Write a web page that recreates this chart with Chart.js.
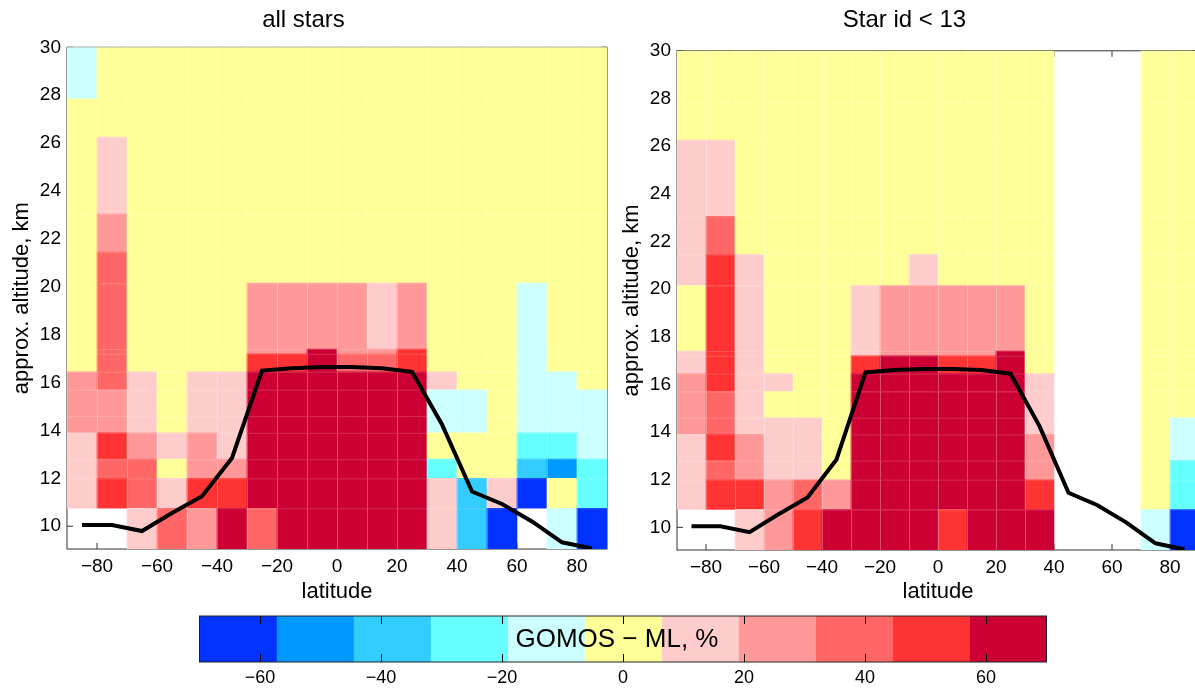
<!DOCTYPE html>
<html>
<head>
<meta charset="utf-8">
<title>GOMOS − ML</title>
<script src="https://cdn.jsdelivr.net/npm/chart.js@4.4.1/dist/chart.umd.min.js"></script>
<style>
  html, body { margin: 0; padding: 0; background: #fff; overflow: hidden; }
  body { width: 1195px; height: 690px; position: relative; }
  canvas { position: absolute; display: block; }
  #leftChart { left: 0; top: 0; }
  #rightChart { left: 610px; top: 0; }
  #barChart { left: 150px; top: 605px; }
</style>
</head>
<body>
<canvas id="leftChart" width="620" height="610"></canvas>
<canvas id="rightChart" width="602" height="610"></canvas>
<canvas id="barChart" width="950" height="85"></canvas>
<script>
// Latitude bin centres (10 deg wide bins)
const lats = [-85, -75, -65, -55, -45, -35, -25, -15, -5, 5, 15, 25, 35, 45, 55, 65, 75, 85];
// Altitude bin edges, km (bottom -> top)
const altEdges = [9.05, 10.75, 12.0, 12.8, 13.9, 14.6, 15.7, 16.45, 17.2, 17.4, 20.15, 21.45, 23.05, 26.25, 27.85, 30.0];

const latTicks = [-80, -60, -40, -20, 0, 20, 40, 60, 80];
const altTicks = [10, 12, 14, 16, 18, 20, 22, 24, 26, 28, 30];

// Tropopause altitude (km) at each latitude bin
const tropAlt = [10.05, 10.05, 9.8, 10.55, 11.25, 12.85, 16.5, 16.6, 16.65, 16.65, 16.6, 16.45, 14.25, 11.45, 10.93, 10.2, 9.33, 9.07];

const _ = null; // no data

// GOMOS - ML difference, %, all stars (rows = altitude bins, bottom -> top)
const allStarsDiff = [
    [ _,  _, 13, 38, 25, 64, 38, 64, 64, 64, 64, 64,  13, -38, -64,   _, -12, -64],
    [13, 51, 38, 13, 51, 51, 64, 64, 64, 64, 64, 64,  13, -38,  13, -64,   0, -25],
    [13, 38, 38,  0, 25, 25, 64, 64, 64, 64, 64, 64, -25,   0,   0, -38, -51, -25],
    [13, 51, 25, 13, 25, 13, 64, 64, 64, 64, 64, 64,   0,   0,   0, -25, -25, -12],
    [25, 25, 13,  0, 13, 13, 64, 64, 64, 64, 64, 64, -12, -12,   0, -12, -12, -12],
    [25, 25, 13,  0, 13, 13, 64, 64, 64, 64, 64, 64, -12, -12,   0, -12, -12, -12],
    [25, 38, 13,  0, 13, 13, 64, 64, 64, 64, 64, 64,  13,   0,   0, -12, -12,   0],
    [ 0, 38,  0,  0,  0,  0, 51, 51, 64, 38, 38, 51,   0,   0,   0, -12,   0,   0],
    [ 0, 38,  0,  0,  0,  0, 25, 25, 64, 25, 25, 51,   0,   0,   0, -12,   0,   0],
    [ 0, 38,  0,  0,  0,  0, 25, 25, 25, 25, 13, 25,   0,   0,   0, -12,   0,   0],
    [ 0, 38,  0,  0,  0,  0,  0,  0,  0,  0,  0,  0,   0,   0,   0,   0,   0,   0],
    [ 0, 25,  0,  0,  0,  0,  0,  0,  0,  0,  0,  0,   0,   0,   0,   0,   0,   0],
    [ 0, 13,  0,  0,  0,  0,  0,  0,  0,  0,  0,  0,   0,   0,   0,   0,   0,   0],
    [ 0,  0,  0,  0,  0,  0,  0,  0,  0,  0,  0,  0,   0,   0,   0,   0,   0,   0],
    [-12, 0,  0,  0,  0,  0,  0,  0,  0,  0,  0,  0,   0,   0,   0,   0,   0,   0]
];

// GOMOS - ML difference, %, bright stars only (star id < 13)
const brightStarsDiff = [
    [ _,  _, 13, 25, 51, 64, 64, 64, 64, 51, 64, 64, 64, _, _, _, -12, -64],
    [13, 51, 51, 25, 38, 25, 64, 64, 64, 64, 64, 64, 51, _, _, _,   0, -25],
    [13, 38, 25, 13, 13,  0, 64, 64, 64, 64, 64, 64, 25, _, _, _,   0, -25],
    [13, 51, 25, 13, 13,  0, 64, 64, 64, 64, 64, 64, 25, _, _, _,   0, -12],
    [25, 38, 13, 13, 13,  0, 64, 64, 64, 64, 64, 64, 13, _, _, _,   0, -12],
    [25, 38, 13,  0,  0,  0, 64, 64, 64, 64, 64, 64, 13, _, _, _,   0,   0],
    [25, 51, 13, 13,  0,  0, 64, 64, 64, 64, 64, 64, 13, _, _, _,   0,   0],
    [13, 51, 13,  0,  0,  0, 51, 64, 64, 51, 51, 64,  0, _, _, _,   0,   0],
    [13, 51, 13,  0,  0,  0, 13, 25, 25, 25, 25, 64,  0, _, _, _,   0,   0],
    [ 0, 51, 13,  0,  0,  0, 13, 25, 25, 25, 25, 25,  0, _, _, _,   0,   0],
    [13, 51, 13,  0,  0,  0,  0,  0, 13,  0,  0,  0,  0, _, _, _,   0,   0],
    [13, 38,  0,  0,  0,  0,  0,  0,  0,  0,  0,  0,  0, _, _, _,   0,   0],
    [13, 13,  0,  0,  0,  0,  0,  0,  0,  0,  0,  0,  0, _, _, _,   0,   0],
    [ 0,  0,  0,  0,  0,  0,  0,  0,  0,  0,  0,  0,  0, _, _, _,   0,   0],
    [ 0,  0,  0,  0,  0,  0,  0,  0,  0,  0,  0,  0,  0, _, _, _,   0,   0]
];

// Colour scale: 11 classes between -70 and 70 %
const cbEdges = [-70, -57.27, -44.55, -31.82, -19.09, -6.36, 6.36, 19.09, 31.82, 44.55, 57.27, 70];
const cbColors = ['#0033ff', '#0099ff', '#33ccff', '#66ffff', '#ccffff', '#ffff99',
                  '#ffcccc', '#ff9999', '#ff6666', '#ff3333', '#cc0033'];
const cbTicks = [-60, -40, -20, 0, 20, 40, 60];

Chart.defaults.font.family = '"Liberation Sans", Arial, Helvetica, sans-serif';
Chart.defaults.color = '#000';

function binColor(v) {
    for (let i = 0; i < cbColors.length; i++) {
        if (v < cbEdges[i + 1]) return cbColors[i];
    }
    return cbColors[cbColors.length - 1];
}

function minusLabel(v) {
    return v < 0 ? '\u2212' + Math.abs(v) : String(v);
}

// axes box + inward tick marks, drawn under the cells (cells hide it)
const frameUnder = {
    id: 'frameUnder',
    beforeDatasetsDraw(chart) {
        const { ctx, chartArea: a, scales: { x, y } } = chart;
        ctx.save();
        ctx.strokeStyle = '#333';
        ctx.lineWidth = 1;
        ctx.strokeRect(a.left, a.top, a.width, a.height);
        ctx.beginPath();
        x.ticks.forEach(t => {
            const px = x.getPixelForValue(t.value);
            ctx.moveTo(px, a.bottom); ctx.lineTo(px, a.bottom - 6);
            ctx.moveTo(px, a.top); ctx.lineTo(px, a.top + 6);
        });
        y.ticks.forEach(t => {
            const py = y.getPixelForValue(t.value);
            ctx.moveTo(a.left, py); ctx.lineTo(a.left + 6, py);
            ctx.moveTo(a.right, py); ctx.lineTo(a.right - 6, py);
        });
        ctx.stroke();
        ctx.restore();
    }
};

// faint seams between neighbouring cells
const cellSeams = {
    id: 'cellSeams',
    afterDatasetDraw(chart, args) {
        if (args.meta.type !== 'bar') return;
        const ctx = chart.ctx;
        const a = chart.chartArea;
        ctx.save();
        ctx.beginPath();
        ctx.rect(a.left, a.top, a.width, a.height);
        ctx.clip();
        ctx.strokeStyle = 'rgba(255,255,255,0.16)';
        ctx.lineWidth = 1;
        args.meta.data.forEach(el => {
            const top = Math.min(el.y, el.base);
            const h = Math.abs(el.base - el.y);
            ctx.strokeRect(el.x - el.width / 2 + 0.5, top + 0.5, el.width, h);
        });
        ctx.restore();
    }
};

function cellDatasets(grid) {
    return grid.map((row, k) => ({
        type: 'bar',
        order: 1,
        data: row.map((v, i) => v === null ? null : { x: lats[i], y: [altEdges[k], altEdges[k + 1]], v: v })
                 .filter(d => d !== null),
        backgroundColor: ctx => (ctx.raw ? binColor(ctx.raw.v) : 'transparent'),
        borderWidth: 0,
        barPercentage: 1,
        categoryPercentage: 1,
        grouped: false
    }));
}

function tropopauseDataset() {
    return {
        type: 'line',
        order: 0,
        data: lats.map((x, i) => ({ x: x, y: tropAlt[i] })),
        borderColor: '#000',
        borderWidth: 4,
        pointRadius: 0,
        tension: 0,
        fill: false
    };
}

function makePanel(canvasId, title, grid, cfg) {
    const ctx = document.getElementById(canvasId).getContext('2d');
    return new Chart(ctx, {
        type: 'bar',
        data: { datasets: [tropopauseDataset()].concat(cellDatasets(grid)) },
        options: {
            responsive: false,
            animation: false,
            layout: { padding: { left: 0, right: cfg.padRight, top: 0, bottom: 0 } },
            plugins: {
                legend: { display: false },
                tooltip: { enabled: false },
                title: {
                    display: true,
                    text: title,
                    font: { size: 24, weight: 'normal' },
                    padding: { top: 6, bottom: cfg.titlePad }
                }
            },
            scales: {
                x: {
                    type: 'linear',
                    min: -90,
                    max: 90,
                    offset: false,
                    afterBuildTicks: s => { s.ticks = latTicks.map(v => ({ value: v })); },
                    afterFit: s => { s.height = cfg.xHeight; },
                    grid: { display: false, drawTicks: false, offset: false },
                    border: { display: false },
                    ticks: { callback: minusLabel, font: { size: 19 }, padding: 6, maxRotation: 0, autoSkip: false },
                    title: { display: true, text: 'latitude', font: { size: 22 }, padding: { top: 0, bottom: 5 } }
                },
                y: {
                    type: 'linear',
                    min: 9.05,
                    max: 30,
                    afterBuildTicks: s => { s.ticks = altTicks.map(v => ({ value: v })); },
                    afterFit: s => { s.width = cfg.yWidth; },
                    grid: { display: false, drawTicks: false },
                    border: { display: false },
                    ticks: { font: { size: 19 }, padding: 6, autoSkip: false },
                    title: { display: true, text: 'approx. altitude, km', font: { size: 22 }, padding: { top: 9, bottom: 0 } }
                }
            }
        },
        plugins: [frameUnder, cellSeams]
    });
}

makePanel('leftChart', 'all stars', allStarsDiff, { padRight: 13, titlePad: 12.5, xHeight: 61, yWidth: 67 });
makePanel('rightChart', 'Star id < 13', brightStarsDiff, { padRight: 13, titlePad: 16, xHeight: 60, yWidth: 67 });

// colour bar: box, inward ticks and caption drawn on top of the colour blocks
const colorbarDecor = {
    id: 'colorbarDecor',
    afterDatasetsDraw(chart) {
        const { ctx, chartArea: a, scales: { x } } = chart;
        ctx.save();
        ctx.strokeStyle = '#000';
        ctx.lineWidth = 1;
        ctx.beginPath();
        x.ticks.forEach(t => {
            const px = Math.round(x.getPixelForValue(t.value)) + 0.5;
            ctx.moveTo(px, a.top); ctx.lineTo(px, a.top + 8);
            ctx.moveTo(px, a.bottom); ctx.lineTo(px, a.bottom - 8);
        });
        ctx.stroke();
        ctx.strokeStyle = '#222';
        ctx.strokeRect(a.left, a.top, a.width, a.height);
        ctx.fillStyle = '#000';
        ctx.font = '26px "Liberation Sans", Arial, sans-serif';
        ctx.textAlign = 'center';
        ctx.textBaseline = 'middle';
        ctx.fillText('GOMOS \u2212 ML, %', x.getPixelForValue(-1), (a.top + a.bottom) / 2 + 1);
        ctx.restore();
    }
};

new Chart(document.getElementById('barChart').getContext('2d'), {
    type: 'bar',
    data: {
        labels: [''],
        datasets: cbColors.map((c, i) => ({
            data: [[cbEdges[i], cbEdges[i + 1]]],
            backgroundColor: c,
            borderWidth: 0,
            barPercentage: 1,
            categoryPercentage: 1,
            grouped: false
        }))
    },
    options: {
        indexAxis: 'y',
        responsive: false,
        animation: false,
        layout: { padding: { left: 49.5, right: 53.5, top: 11, bottom: 0 } },
        plugins: { legend: { display: false }, tooltip: { enabled: false } },
        scales: {
            x: {
                type: 'linear',
                min: -70,
                max: 70,
                afterBuildTicks: s => { s.ticks = cbTicks.map(v => ({ value: v })); },
                afterFit: s => { s.height = 28; },
                grid: { display: false, drawTicks: false },
                border: { display: false },
                ticks: { callback: minusLabel, font: { size: 18 }, padding: 5, maxRotation: 0, autoSkip: false }
            },
            y: { display: false }
        }
    },
    plugins: [colorbarDecor]
});
</script>
</body>
</html>
